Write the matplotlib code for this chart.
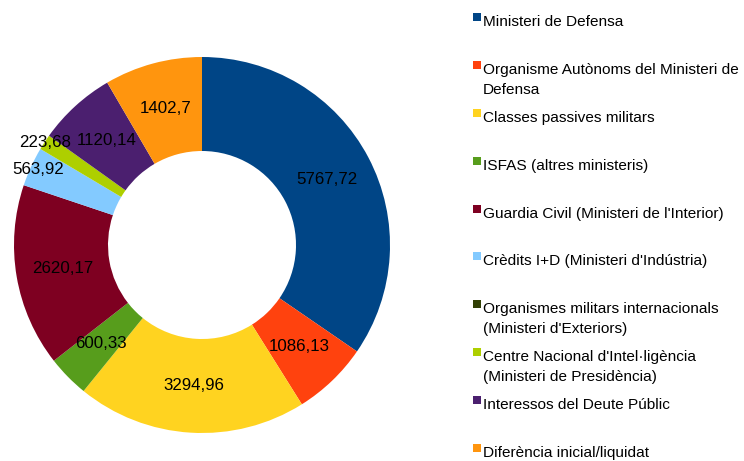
import numpy as np
import matplotlib.pyplot as plt
from matplotlib.patches import Rectangle

plt.rcParams['font.family'] = ['Liberation Sans', 'DejaVu Sans']

# Budget items (milions d'euros)
categories = [
    'Ministeri de Defensa',
    'Organisme Autònoms del Ministeri de\nDefensa',
    'Classes passives militars',
    'ISFAS (altres ministeris)',
    "Guardia Civil (Ministeri de l'Interior)",
    "Crèdits I+D (Ministeri d'Indústria)",
    "Organismes militars internacionals\n(Ministeri d'Exteriors)",
    "Centre Nacional d'Intel·ligència\n(Ministeri de Presidència)",
    'Interessos del Deute Públic',
    'Diferència inicial/liquidat',
]
values = [5767.72, 1086.13, 3294.96, 600.33, 2620.17, 563.92, 0, 223.68, 1120.14, 1402.7]
colors = ['#004586', '#ff420e', '#ffd320', '#579d1c', '#7e0021',
          '#83caff', '#314004', '#aecf00', '#4b1f6f', '#ff950e']

W, H = 744, 461
fig = plt.figure(figsize=(W / 100, H / 100), dpi=100)

# donut: centre (202, 245) px, radius 188 px
cx, cy, R = 202, 245, 188
ax = fig.add_axes([(cx - R) / W, (H - cy - R) / H, 2 * R / W, 2 * R / H])
wedges, _ = ax.pie(values, colors=colors, startangle=90, counterclock=False,
                   radius=1, wedgeprops=dict(width=0.5, linewidth=0))
ax.set_xlim(-1, 1)
ax.set_ylim(-1, 1)
ax.set_aspect('equal')

total = sum(values)
for w, v in zip(wedges, values):
    if v == 0:
        continue
    mid = np.deg2rad((w.theta1 + w.theta2) / 2)
    frac = v / total
    # small slices get their label pushed to the outer edge
    if frac < 0.02:
        dist = 1.0
    elif frac < 0.035:
        dist = 0.96
    else:
        dist = 0.75
    txt = ('%g' % v).replace('.', ',')
    ax.text(dist * np.cos(mid), dist * np.sin(mid), txt, ha='center', va='center',
            fontsize=12.2, color='black')

# legend drawn by hand
y0, step = 26.5, 47.8
for i, (lab, col) in enumerate(zip(categories, colors)):
    yb = y0 + i * step
    fig.patches.append(Rectangle((473 / W, 1 - (yb - 5) / H), 8 / W, 8 / H,
                                 transform=fig.transFigure, facecolor=col,
                                 edgecolor='none'))
    for j, line in enumerate(lab.split('\n')):
        fig.text(483 / W, 1 - (yb + j * 20) / H, line, ha='left', va='baseline',
                 fontsize=11.1, color='black')

fig.savefig('out.png', dpi=100)
